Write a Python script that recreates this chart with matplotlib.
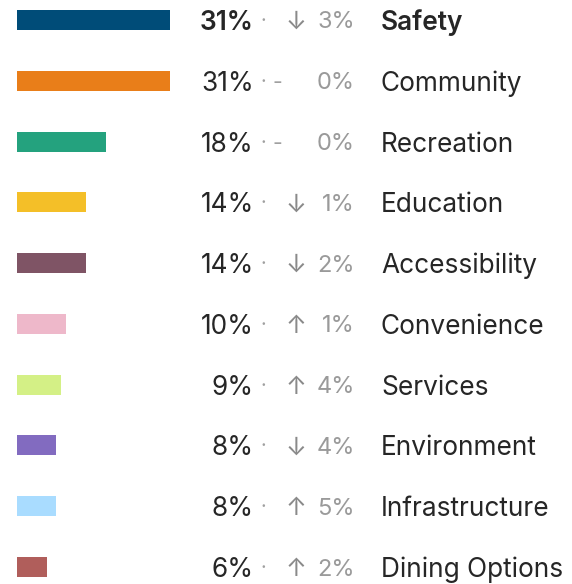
import matplotlib
matplotlib.use("Agg")
import matplotlib.pyplot as plt
from matplotlib.transforms import blended_transform_factory

categories = ["Safety", "Community", "Recreation", "Education", "Accessibility",
              "Convenience", "Services", "Environment", "Infrastructure", "Dining Options"]
shares = [31, 31, 18, 14, 14, 10, 9, 8, 8, 6]
changes = [-3, 0, 0, -1, -2, 1, 4, -4, 5, 2]
colors = ["#004c78", "#e97e19", "#24a27e", "#f4bf28", "#7f5465",
          "#eeb8ca", "#d4f086", "#826bc0", "#a9dcff", "#b05e5b"]

W, H, DPI = 572, 584, 100
fig = plt.figure(figsize=(W / DPI, H / DPI), dpi=DPI)
ax = fig.add_axes([0, 0, 1, 1])
ax.set_axis_off()

# pixel layout of the rows
left_px, px_per_pct = 17, 4.935
top_px, row_px = 20, 60.78
ax.set_xlim(-left_px / px_per_pct, (W - left_px) / px_per_pct)
ax.set_ylim((H - top_px) / row_px, -top_px / row_px)

rows = list(range(len(categories)))
ax.barh(rows, shares, height=20 / row_px, left=0, color=colors, linewidth=0)

tx = blended_transform_factory(fig.transFigure, ax.transData)
def fx(px):
    return px / W

font = "Inter"
fs = 18.9
dark = "#262626"
grey = "#9a9a9a"
for i, (cat, s, c) in enumerate(zip(categories, shares, changes)):
    weight = 600 if i == 0 else "normal"
    ax.text(fx(254), i, f"{s}%", transform=tx, ha="right", va="center_baseline",
            fontsize=fs, color=dark, family=font, weight=weight)
    ax.text(fx(263), i, "·", transform=tx, ha="center", va="center_baseline",
            fontsize=fs * 0.75, color="#a0a0a0", family=font)
    if c == 0:
        ax.text(fx(277), i, "-", transform=tx, ha="center", va="center_baseline",
                fontsize=fs * 0.8, color="#a0a0a0", family=font)
    else:
        arrow = "↑" if c > 0 else "↓"
        ax.text(fx(296), i, arrow, transform=tx, ha="center", va="center_baseline",
                fontsize=fs * 0.95, color="#8a8a8a", family=[font, "DejaVu Sans"])
    ax.text(fx(355), i, f"{abs(c)}%", transform=tx, ha="right", va="center_baseline",
            fontsize=fs * 0.9, color=grey, family=font)
    ax.text(fx(381), i, cat, transform=tx, ha="left", va="center_baseline",
            fontsize=fs, color=dark, family=font, weight=weight)

fig.savefig("out.png", dpi=DPI)
